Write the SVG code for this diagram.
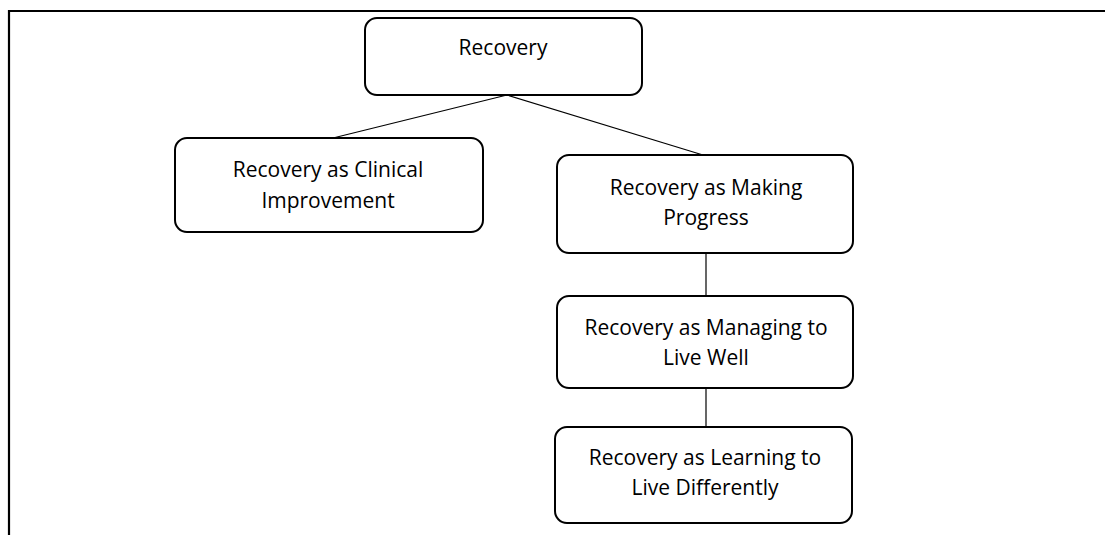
<svg xmlns="http://www.w3.org/2000/svg" width="1105" height="535" viewBox="0 0 1105 535">
<style>
.box{fill:#fff;stroke:#000;stroke-width:2}
.t{font-family:"Open Sans","Liberation Sans",Arial,sans-serif;font-size:21px;fill:#000;text-anchor:middle}
.c{stroke:#000;stroke-width:1.2;fill:none}
.frame{stroke:#000;stroke-width:2.2;fill:none}
</style>
<rect width="1105" height="535" fill="#fff"/>
<path class="frame" d="M9,535 V11 H1105"/>
<g id="connectors">
<line class="c" x1="507" y1="95" x2="333" y2="138"/>
<line class="c" x1="507" y1="95" x2="703" y2="155"/>
<line class="c" x1="706" y1="253" x2="706" y2="296"/>
<line class="c" x1="706" y1="388" x2="706" y2="427"/>
</g>
<g id="recovery">
<rect class="box" x="365" y="18" width="277" height="77" rx="12"/>
<text class="t" x="503" y="55">Recovery</text>
</g>
<g id="clinical">
<rect class="box" x="175" y="138" width="308" height="94" rx="12"/>
<text class="t" x="328" y="177">Recovery as Clinical</text>
<text class="t" x="328" y="208">Improvement</text>
</g>
<g id="progress">
<rect class="box" x="557" y="155" width="296" height="98" rx="12"/>
<text class="t" x="706" y="195">Recovery as Making</text>
<text class="t" x="706" y="225">Progress</text>
</g>
<g id="managing">
<rect class="box" x="557" y="296" width="296" height="92" rx="12"/>
<text class="t" x="706" y="335">Recovery as Managing to</text>
<text class="t" x="706" y="365">Live Well</text>
</g>
<g id="learning">
<rect class="box" x="555" y="427" width="297" height="96" rx="12"/>
<text class="t" x="705" y="465">Recovery as Learning to</text>
<text class="t" x="705" y="495">Live Differently</text>
</g>
</svg>
